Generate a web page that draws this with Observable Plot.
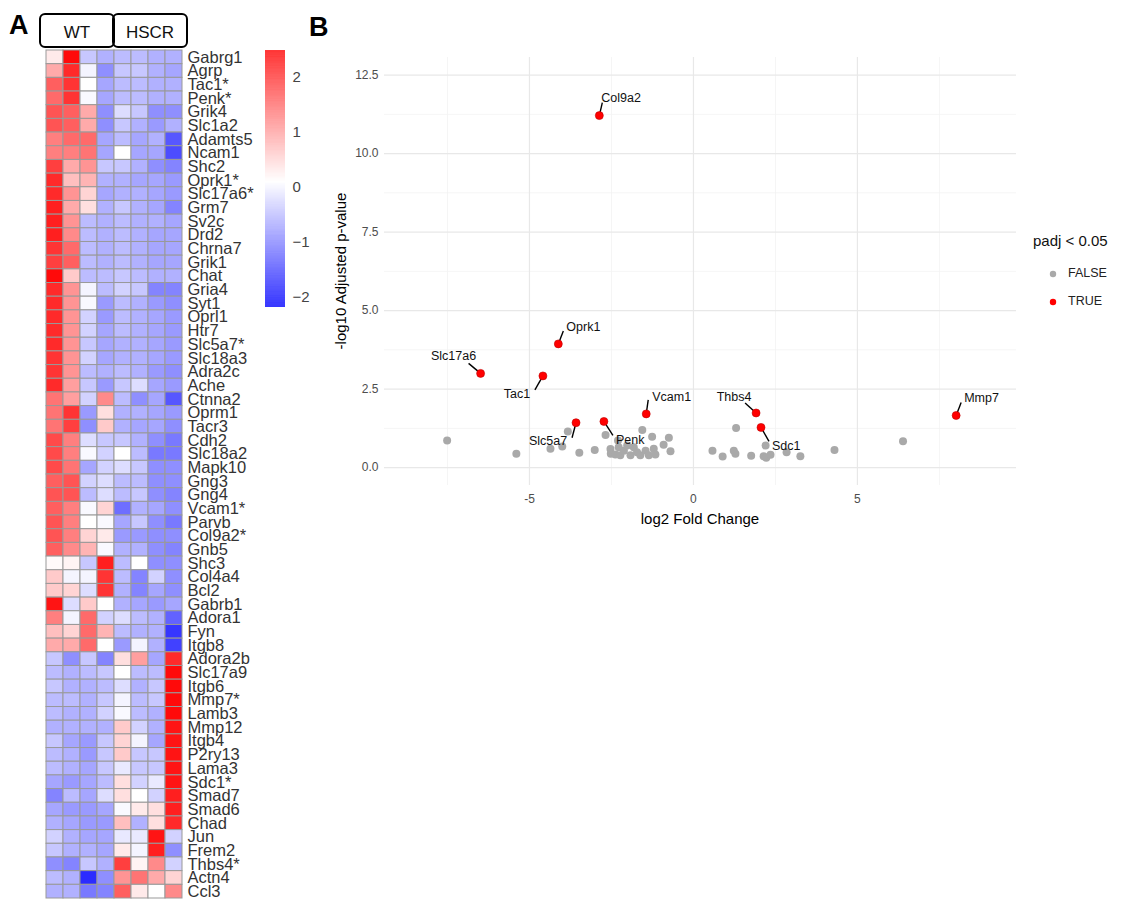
<!DOCTYPE html>
<html><head><meta charset="utf-8">
<script src="https://cdn.jsdelivr.net/npm/d3@7"></script>
<script src="https://cdn.jsdelivr.net/npm/@observablehq/plot@0.6"></script>
<style>
body{margin:0;background:#fff;font-family:"Liberation Sans",Arial,sans-serif;}
#root{position:relative;width:1131px;height:899px;overflow:hidden;background:#fff;}
.abs{position:absolute;white-space:nowrap;}
.box{position:absolute;border:2.5px solid #000;border-radius:6px;box-sizing:border-box;display:flex;align-items:center;justify-content:center;font-size:17px;color:#111;padding-top:5px;}
</style></head><body><div id="root"></div>
<script>
// ---------------- DATA ----------------
const genes = ["Gabrg1","Agrp","Tac1*","Penk*","Grik4","Slc1a2","Adamts5","Ncam1","Shc2","Oprk1*","Slc17a6*","Grm7","Sv2c","Drd2","Chrna7","Grik1","Chat","Gria4","Syt1","Oprl1","Htr7","Slc5a7*","Slc18a3","Adra2c","Ache","Ctnna2","Oprm1","Tacr3","Cdh2","Slc18a2","Mapk10","Gng3","Gng4","Vcam1*","Parvb","Col9a2*","Gnb5","Shc3","Col4a4","Bcl2","Gabrb1","Adora1","Fyn","Itgb8","Adora2b","Slc17a9","Itgb6","Mmp7*","Lamb3","Mmp12","Itgb4","P2ry13","Lama3","Sdc1*","Smad7","Smad6","Chad","Jun","Frem2","Thbs4*","Actn4","Ccl3"];
const samples = ["WT_1","WT_2","WT_3","WT_4","HSCR_1","HSCR_2","HSCR_3","HSCR_4"];
const groups = ["WT","HSCR"];
const zscores = [
[0.3,2.4,-0.4,-0.6,-0.5,-0.5,-0.6,-0.6],
[0.9,2.1,0.0,-0.9,-0.4,-0.4,-0.6,-0.7],
[1.6,2.0,0.1,-0.7,-0.5,-0.5,-0.6,-0.6],
[1.5,2.0,0.05,-0.7,-0.5,-0.5,-0.6,-0.6],
[1.7,1.6,0.9,-0.9,-0.2,-0.4,-0.9,-0.9],
[1.7,1.6,0.9,-0.9,-0.4,-0.6,-0.8,-0.6],
[1.3,1.5,1.5,-0.7,-0.5,-0.7,-0.6,-1.4],
[1.3,1.3,1.4,-0.7,0.1,-0.7,-0.7,-1.5],
[1.9,0.9,1.1,-0.4,-0.4,-0.6,-0.9,-1.0],
[2.1,0.7,0.8,-0.6,-0.6,-0.7,-0.7,-0.8],
[2.1,1.1,0.5,-0.7,-0.6,-0.6,-0.7,-0.8],
[2.2,0.9,0.4,-0.6,-0.4,-0.6,-0.7,-1.0],
[2.2,1.1,-0.5,-0.6,-0.5,-0.6,-0.6,-0.7],
[2.2,1.2,-0.5,-0.6,-0.5,-0.6,-0.7,-0.7],
[2.0,1.5,-0.5,-0.6,-0.5,-0.6,-0.7,-0.7],
[1.9,1.6,-0.5,-0.6,-0.5,-0.6,-0.7,-0.7],
[2.4,0.6,-0.5,-0.5,-0.4,-0.5,-0.6,-0.6],
[2.1,1.1,0.0,-0.5,-0.3,-0.4,-1.0,-1.0],
[2.1,1.1,0.05,-0.8,-0.5,-0.6,-0.8,-0.9],
[2.1,1.1,-0.3,-0.8,-0.5,-0.6,-0.7,-0.8],
[2.1,1.1,-0.3,-0.7,-0.5,-0.6,-0.7,-0.8],
[2.1,1.1,-0.4,-0.7,-0.6,-0.6,-0.7,-0.8],
[2.0,1.1,-0.3,-0.7,-0.6,-0.6,-0.7,-0.8],
[2.0,1.1,-0.5,-0.6,-0.5,-0.6,-0.8,-0.9],
[2.1,1.0,-0.4,-0.8,-0.4,-0.2,-0.7,-0.8],
[1.4,1.0,-0.3,1.2,-0.5,-0.9,-0.7,-1.4],
[1.4,2.0,-0.8,0.4,-0.6,-0.6,-0.7,-0.8],
[1.4,1.9,-0.9,0.6,-0.6,-0.7,-0.7,-0.9],
[1.8,1.3,-0.2,-0.4,-0.4,-0.6,-0.9,-1.1],
[1.8,1.3,0.05,-0.3,0.1,-0.5,-1.1,-1.1],
[1.8,1.4,-0.7,-0.3,-0.2,-0.4,-0.9,-0.9],
[1.6,1.7,-0.3,-0.2,-0.5,-0.5,-0.9,-0.9],
[1.7,1.7,-0.5,-0.2,-0.5,-0.4,-0.9,-1.0],
[1.6,1.3,0.05,0.5,-1.2,-0.6,-0.7,-0.9],
[1.7,1.3,0.1,0.05,-0.7,-0.4,-0.9,-1.1],
[1.7,1.3,0.5,0.3,-0.8,-0.8,-0.9,-0.9],
[1.6,1.2,0.8,0.05,-0.6,-0.6,-0.9,-1.0],
[0.15,0.2,-0.4,2.2,-0.5,0.1,-0.9,-0.9],
[0.6,0.0,0.0,2.0,-0.5,-1.0,-0.3,-0.9],
[0.6,0.5,-0.2,2.0,-0.6,-1.0,-0.7,-0.9],
[2.3,-0.2,0.6,0.1,-0.6,-0.7,-0.8,-0.7],
[1.3,0.0,1.5,-0.3,-0.2,-0.5,-0.6,-1.3],
[0.7,0.5,1.5,0.8,-0.5,-0.6,-0.6,-1.7],
[0.9,0.9,1.5,0.1,-0.8,0.0,-0.6,-1.6],
[-0.4,-0.9,-0.4,-1.0,0.4,1.0,-0.7,2.1],
[-0.5,-0.6,-0.5,-0.4,0.1,-0.5,-0.5,2.4],
[-0.4,-0.6,-0.6,-0.5,-0.2,-0.6,-0.4,2.4],
[-0.5,-0.5,-0.6,-0.4,0.0,-0.5,-0.4,2.4],
[-0.5,-0.6,-0.6,-0.3,0.05,-0.5,-0.6,2.4],
[-0.6,-0.6,-0.6,-0.6,0.6,-0.3,-0.6,2.3],
[-0.4,-0.7,-0.8,-0.4,0.5,0.0,-0.7,2.3],
[-0.5,-0.6,-0.8,-0.4,0.6,-0.4,-0.4,2.3],
[-0.5,-0.6,-0.7,-0.4,-0.1,-0.4,-0.4,2.3],
[-0.7,-0.8,-0.7,-0.5,0.4,-0.3,-0.1,2.3],
[-1.0,-0.5,-0.7,-0.2,0.4,0.1,-0.3,2.2],
[-0.7,-0.8,-0.8,-0.7,0.05,0.3,0.4,2.2],
[-0.6,-0.7,-0.8,-0.8,0.7,-0.6,0.4,2.1],
[-0.3,-0.6,-0.7,-0.7,-0.1,-0.1,2.3,-0.3],
[-0.4,-0.6,-0.6,-0.7,0.3,0.0,2.2,-0.9],
[-0.9,-1.0,-0.4,-0.6,1.9,0.2,1.2,-0.3],
[-0.5,-0.6,-1.8,-0.9,1.1,1.4,0.9,0.5],
[-0.6,-0.6,-1.1,-1.0,1.6,0.3,0.1,1.2]
];
const colorTicks = [-2,-1,0,1,2];

// volcano: significant genes
const sigGenes   = ["Col9a2","Oprk1","Slc17a6","Tac1","Vcam1","Slc5a7","Penk","Thbs4","Sdc1","Mmp7"];
const sigLog2FC  = [-2.87,-4.12,-6.49,-4.59,-1.44,-3.58,-2.73,1.91,2.06,8.01];
const sigNegLogP = [11.21,3.94,3.00,2.92,1.71,1.43,1.47,1.74,1.28,1.66];
// volcano: non-significant genes
const nsLog2FC  = [-7.51,-5.40,-4.36,-4.00,-3.83,-3.48,-3.01,-2.68,-2.53,-2.52,-2.38,-2.30,-2.28,-2.23,-2.12,-2.02,-1.92,-1.82,-1.72,-1.62,-1.56,-1.46,-1.36,-1.26,-1.21,-1.16,-0.91,-0.75,-0.70,0.58,0.89,1.23,1.28,1.30,1.76,2.14,2.22,2.20,2.35,2.84,3.26,4.30,6.39];
const nsNegLogP = [0.86,0.44,0.60,0.67,1.15,0.47,0.56,1.04,0.59,0.44,0.42,0.86,0.65,0.39,0.54,0.70,0.39,0.65,0.49,0.39,1.20,0.54,0.39,0.98,0.60,0.42,0.73,0.95,0.52,0.54,0.35,0.54,0.44,1.26,0.38,0.36,0.31,0.70,0.41,0.49,0.36,0.56,0.84];
const xTicks = [-5,0,5];
const yTicks = [0,2.5,5,7.5,10,12.5];
const legendLevels = ["FALSE","TRUE"];

// ---------------- LAYOUT (pixel offsets for repelled labels) ----------------
const labelLayout = {
  Col9a2: {sx:3, sy:-13, tx:2, ty:-18, anchor:"start"},
  Oprk1:  {sx:5, sy:-13, tx:8, ty:-17, anchor:"start"},
  Slc17a6:{sx:-12, sy:-10, tx:-27, ty:-17, anchor:"middle"},
  Tac1:   {sx:-8, sy:14, tx:-26, ty:18, anchor:"middle"},
  Vcam1:  {sx:2, sy:-14, tx:6, ty:-17, anchor:"start"},
  Slc5a7: {sx:-4, sy:15, tx:-28, ty:18, anchor:"middle"},
  Penk:   {sx:9, sy:14, tx:12, ty:19, anchor:"start"},
  Thbs4:  {sx:-11, sy:-10, tx:-22, ty:-16, anchor:"middle"},
  Sdc1:   {sx:8, sy:14, tx:11, ty:19, anchor:"start"},
  Mmp7:   {sx:5, sy:-13, tx:8, ty:-17, anchor:"start"}
};

const root = document.getElementById("root");
const FONT = '"Liberation Sans", Arial, sans-serif';
function add(el, css){ el.classList.add("abs"); Object.assign(el.style, css); root.appendChild(el); return el; }
function txt(t, css){ const d=document.createElement("div"); d.textContent=t; return add(d, css); }
const minusFmt = d => d < 0 ? "\u2212" + Math.abs(d) : String(d);

// ---------------- HEATMAP ----------------
const cells = [];
genes.forEach((g,i)=>samples.forEach((s,j)=>cells.push({gene:g, sample:s, z:zscores[i][j]})));
const colorScale = {type:"linear", domain:[-2.18, 0.1, 2.49], range:["#0000ff","#ffffff","#ff0000"], interpolate:"rgb"};

const heat = Plot.plot({
  width:255, height:899, marginLeft:45, marginRight:73, marginTop:50, marginBottom:1,
  style:{fontFamily:FONT, background:"transparent", overflow:"visible"},
  x:{domain:samples, padding:0, axis:null},
  y:{domain:genes, padding:0, axis:null},
  color:colorScale,
  marks:[
    Plot.cell(cells,{x:"sample", y:"gene", fill:"z", stroke:"#999999", strokeWidth:1, inset:0}),
    Plot.axisY({anchor:"right", tickSize:0, tickPadding:5, fontSize:16.5, fill:"#333", label:null})
  ]
});
add(heat,{left:"0px", top:"0px"});

// group annotation boxes
const wt = document.createElement("div"); wt.className="box"; wt.textContent=groups[0];
add(wt,{left:"39px", top:"13px", width:"76px", height:"35px"});
const hs = document.createElement("div"); hs.className="box"; hs.textContent=groups[1];
add(hs,{left:"112px", top:"13px", width:"76px", height:"35px"});

// color bar
const cbDom = [-2.18, 2.49];
const cbSteps = d3.range(cbDom[0], cbDom[1], 0.01).map(v=>({y1:v, y2:Math.min(v+0.011, cbDom[1])}));
const cbar = Plot.plot({
  width:60, height:300, marginLeft:10, marginRight:30, marginTop:20, marginBottom:23,
  style:{fontFamily:FONT, background:"transparent", overflow:"visible"},
  x:{axis:null},
  y:{domain:cbDom, axis:null},
  color:colorScale,
  marks:[
    Plot.rect(cbSteps,{y1:"y1", y2:"y2", fill:"y1"}),
    Plot.axisY(colorTicks,{anchor:"right", tickSize:0, tickPadding:7, fontSize:15, fill:"#444", label:null, tickFormat:minusFmt})
  ]
});
add(cbar,{left:"255px", top:"30px"});

// panel letters
txt("A",{left:"9px", top:"10px", fontSize:"27px", fontWeight:"bold", fontFamily:FONT, color:"#000"});
txt("B",{left:"309px", top:"12px", fontSize:"27px", fontWeight:"bold", fontFamily:FONT, color:"#000"});

// ---------------- VOLCANO ----------------
const VW=831, VH=560, mL=84, mR=115, mT=57, mB=75;
const xDomain=[-9.42, 9.85], yDomain=[-0.57, 13.06];
const xs = Plot.scale({x:{domain:xDomain, range:[mL, VW-mR]}});
const ys = Plot.scale({y:{domain:yDomain, range:[VH-mB, mT]}});

const nsData = nsLog2FC.map((x,i)=>({x, y:nsNegLogP[i], sig:"FALSE"}));
const sigData = sigGenes.map((g,i)=>({gene:g, x:sigLog2FC[i], y:sigNegLogP[i], sig:"TRUE"}));
const labData = sigData.map(d=>{
  const L = labelLayout[d.gene];
  const px = xs.apply(d.x), py = ys.apply(d.y);
  return {...d, x2: xs.invert(px+L.sx), y2: ys.invert(py+L.sy), tx: xs.invert(px+L.tx), ty: ys.invert(py+L.ty), anchor:L.anchor};
});

const minorX=[-7.5,-2.5,2.5,7.5], minorY=[1.25,3.75,6.25,8.75,11.25];
const volcano = Plot.plot({
  width:VW, height:VH, marginLeft:mL, marginRight:mR, marginTop:mT, marginBottom:mB,
  style:{fontFamily:FONT, background:"transparent", overflow:"visible"},
  x:{domain:xDomain, axis:null},
  y:{domain:yDomain, axis:null},
  marks:[
    Plot.gridX(minorX,{stroke:"#f2f2f2", strokeOpacity:1, strokeWidth:0.8}),
    Plot.gridY(minorY,{stroke:"#f2f2f2", strokeOpacity:1, strokeWidth:0.8}),
    Plot.gridX(xTicks,{stroke:"#e8e8e8", strokeOpacity:1, strokeWidth:1.2}),
    Plot.gridY(yTicks,{stroke:"#e8e8e8", strokeOpacity:1, strokeWidth:1.2}),
    Plot.axisX(xTicks,{tickSize:0, tickPadding:9, fontSize:12, fill:"#4d4d4d", label:null, tickFormat:d=>String(d)}),
    Plot.axisY(yTicks,{tickSize:0, tickPadding:6, fontSize:12, fill:"#4d4d4d", label:null, tickFormat:d3.format(".1f")}),
    Plot.dot(nsData,{x:"x", y:"y", r:4, fill:"#a9a9a9", stroke:"none"}),
    Plot.link(labData,{x1:"x", y1:"y", x2:"x2", y2:"y2", stroke:"#000", strokeWidth:1.4}),
    Plot.dot(sigData,{x:"x", y:"y", r:4, fill:"#ff0000", stroke:"#c00000", strokeWidth:0.6}),
    Plot.text(labData.filter(d=>d.anchor==="start"),{x:"tx", y:"ty", text:"gene", textAnchor:"start", fontSize:12.5, fill:"#111"}),
    Plot.text(labData.filter(d=>d.anchor==="middle"),{x:"tx", y:"ty", text:"gene", textAnchor:"middle", fontSize:12.5, fill:"#111"})
  ]
});
add(volcano,{left:"300px", top:"0px"});

// axis titles
txt("log2 Fold Change",{left:"700px", top:"510px", transform:"translateX(-50%)", fontFamily:FONT, color:"#000", fontSize:"15px"});
txt("-log10 Adjusted p-value",{left:"340px", top:"271px", transform:"translate(-50%,-50%) rotate(-90deg)", fontFamily:FONT, color:"#000", fontSize:"15px"});

// legend
txt("padj < 0.05",{left:"1033px", top:"232px", fontSize:"15px", fontFamily:FONT, color:"#111"});
const legColors = {FALSE:"#a9a9a9", TRUE:"#ff0000"};
legendLevels.forEach((lv,i)=>{
  const y = 274 + i*28;
  const s = document.createElementNS("http://www.w3.org/2000/svg","svg");
  s.setAttribute("width","12"); s.setAttribute("height","12");
  const c = document.createElementNS("http://www.w3.org/2000/svg","circle");
  c.setAttribute("cx","6"); c.setAttribute("cy","6"); c.setAttribute("r","3.2"); c.setAttribute("fill",legColors[lv]);
  s.appendChild(c);
  add(s,{left:"1047px", top:(y-6)+"px"});
  txt(lv,{left:"1068px", top:(y-8)+"px", fontSize:"12.5px", fontFamily:FONT, color:"#222"});
});
</script></body></html>
